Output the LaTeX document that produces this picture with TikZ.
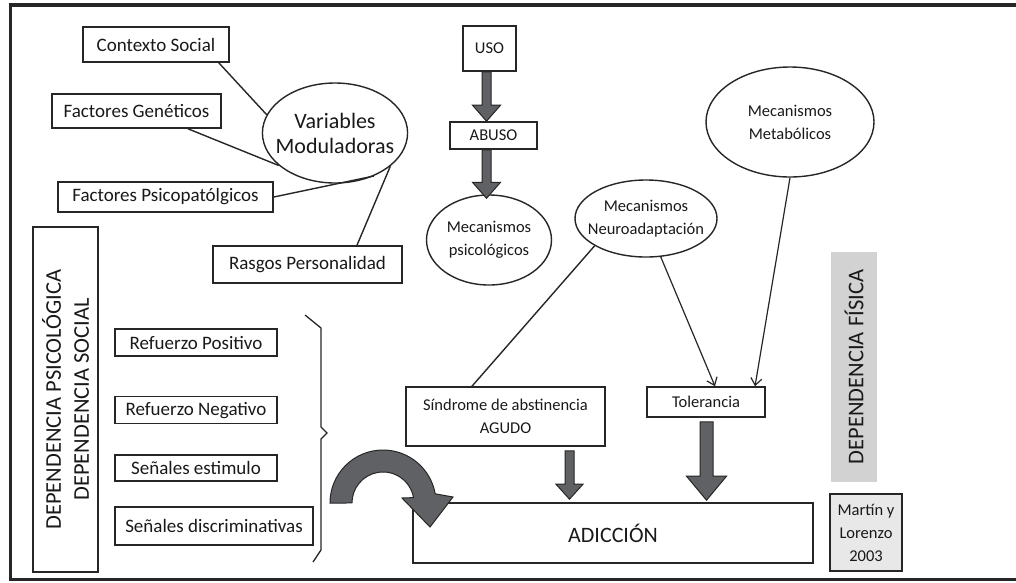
\documentclass[tikz,border=0pt]{standalone}
\usepackage{fontspec}
\setmainfont{Carlito}
\usepackage{tikz}
\usetikzlibrary{shapes.geometric, arrows.meta, positioning, calc}
\definecolor{arrowgray}{RGB}{96,97,100}
\definecolor{labelgray}{RGB}{210,210,210}
\definecolor{notegray}{RGB}{232,232,232}
\tikzset{
    textbox/.style={rectangle, draw=black!85, line width=1.6pt, inner sep=2pt, align=center, text=black!90},
    bubble/.style={ellipse, draw=black!85, line width=1.4pt, inner sep=-8pt, align=center, text=black!90},
    bigfont/.style={font=\fontsize{22}{25}\selectfont},
    midfont/.style={font=\fontsize{19}{22}\selectfont},
    smallfont/.style={font=\fontsize{16.5}{23}\selectfont},
    deplabel/.style={font=\fontsize{22.5}{28}\selectfont, rotate=90, align=center, text=black!90},
    link/.style={black!85, line width=1.4pt},
    linkarr/.style={black!85, line width=1.2pt, -{Straight Barb[length=7pt, width=11pt]}},
    blockarr/.style={fill=arrowgray, draw=black!85, line width=1pt, line join=miter},
}
% vertical block arrow: from, to, shaft half width, head half width, head length
\newcommand{\blockarrow}[5]{%
  \draw[blockarr] let \p1=#1, \p2=#2 in
    (\x1-#3,\y1) -- (\x1-#3,\y2+#5) -- (\x1-#4,\y2+#5) -- (\x1,\y2)
    -- (\x1+#4,\y2+#5) -- (\x1+#3,\y2+#5) -- (\x1+#3,\y1) -- cycle;}

\begin{document}
\begin{tikzpicture}[x=1pt, y=-1pt]
\useasboundingbox (0,0) rectangle (1016,582);

% Outer frame (right side runs off the page)
\draw[black!85, line width=3pt] (1030,579) -- (10,579) -- (10,5);
\draw[black!85, line width=4pt] (8.5,5) -- (1030,5);

% Variables moduladoras
\node[bubble, bigfont, minimum width=145pt, minimum height=100pt] (varmod) at (335,133) {Variables\\Moduladoras};
\node[textbox, midfont, minimum width=146pt, minimum height=35pt] (ctx) at (156,44.5) {Contexto Social};
\node[textbox, midfont, minimum width=169pt, minimum height=34pt] (gen) at (136.5,111) {Factores Genéticos};
\node[textbox, midfont, minimum width=215pt, minimum height=30pt] (psico) at (165.5,197) {Factores Psicopatólgicos};
\node[textbox, midfont, minimum width=189pt, minimum height=37pt] (rasgos) at (307.5,264.5) {Rasgos Personalidad};
\draw[link] ([xshift=-11pt]ctx.south east) -- (varmod.165);
\draw[link] ([xshift=51.5pt]gen.south) -- (varmod.210);
\draw[link] (psico.east) -- (varmod.-48);
\draw[link] ([xshift=49.5pt]rasgos.north) -- (varmod.-31);

% Dependencia psicologica / social
\node[textbox, deplabel, minimum width=345pt, minimum height=65pt] (deppsic) at (65.5,399.5) {DEPENDENCIA PSICOLÓGICA\\DEPENDENCIA SOCIAL};
\node[textbox, midfont, minimum width=162pt, minimum height=27pt] (rpos) at (196,342.5) {Refuerzo Positivo};
\node[textbox, midfont, minimum width=162pt, minimum height=27pt, below=39pt of rpos] (rneg) {Refuerzo Negativo};
\node[textbox, midfont, minimum width=162pt, minimum height=26pt, below=30pt of rneg] (sest) {Señales estimulo};
\node[textbox, midfont, minimum width=198pt, minimum height=38pt, below=24pt of sest.south west, anchor=north west] (sdis) {Señales discriminativas};
\draw[link, line width=1.3pt] (305,315) -- (321,328) -- (321,427) -- (327,433) -- (321,439) -- (321,550) -- (313,562);

% Uso - abuso
\node[textbox, smallfont, minimum width=53pt, minimum height=45pt] (uso) at (489.5,48.5) {USO};
\node[textbox, smallfont, minimum width=87pt, minimum height=27pt] (abuso) at (493.5,135.5) {ABUSO};
\node[bubble, smallfont, minimum width=125pt, minimum height=90pt] (mpsic) at (489,240) {Mecanismos\\psicológicos};
\blockarrow{([xshift=-3pt]uso.south)}{(abuso.north)}{4.5pt}{14pt}{16pt}
\blockarrow{([xshift=-7pt]abuso.south)}{([yshift=-4pt]mpsic.north)}{4.5pt}{14pt}{16pt}

% Dependencia fisica
\node[bubble, smallfont, minimum width=142pt, minimum height=77pt] (neuro) at (646,218.5) {Mecanismos\\Neuroadaptación};
\node[bubble, smallfont, minimum width=168pt, minimum height=110pt] (metab) at (790,122) {Mecanismos\\Metabólicos};
\node[textbox, smallfont, minimum width=199pt, minimum height=59pt] (sindrome) at (505.5,416.5) {Síndrome de abstinencia\\AGUDO};
\node[textbox, smallfont, minimum width=118pt, minimum height=30pt] (toler) at (706,402) {Tolerancia};
\node[deplabel, fill=labelgray, minimum width=230pt, minimum height=46pt] (depfis) at (854,367) {DEPENDENCIA FÍSICA};
\draw[link] (neuro.208) -- ([xshift=-33.5pt]sindrome.north);
\draw[linkarr] (neuro.-69) -- ([xshift=9pt]toler.north);
\draw[linkarr] (metab.south) -- ([xshift=49pt]toler.north);

% Adiccion
\node[textbox, bigfont, minimum width=400pt, minimum height=60pt] (adic) at (613,533) {ADICCIÓN};
\node[textbox, smallfont, fill=notegray, line width=2pt, minimum width=72pt, minimum height=77pt, inner sep=0pt] (martin) at (866,532.5) {Martín y\\Lorenzo\\2003};
\blockarrow{([xshift=64pt,yshift=-4pt]sindrome.south)}{([yshift=3pt]adic.north)}{4.5pt}{13.5pt}{15pt}
\blockarrow{([xshift=0.5pt,yshift=-4pt]toler.south)}{([yshift=2pt]adic.north)}{6.5pt}{20pt}{24pt}

% Curved arrow into adiccion
\draw[blockarr] (330,503) arc[start angle=180, end angle=350, radius=53]
  -- (453,497) -- (430,527) -- (402,498) -- (413.5,497.6)
  arc[start angle=350, end angle=180, radius=31] -- cycle;
\end{tikzpicture}
\end{document}
